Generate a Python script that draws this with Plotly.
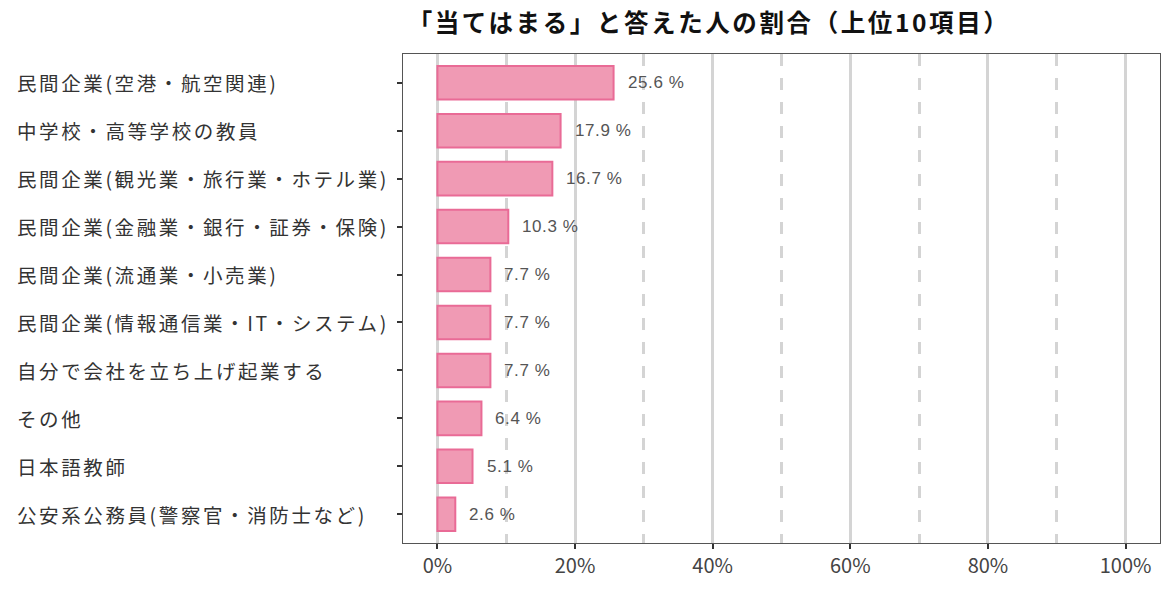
import plotly.graph_objects as go

# Data (top to bottom)
categories = [
    "民間企業(空港・航空関連)",
    "中学校・高等学校の教員",
    "民間企業(観光業・旅行業・ホテル業)",
    "民間企業(金融業・銀行・証券・保険)",
    "民間企業(流通業・小売業)",
    "民間企業(情報通信業・IT・システム)",
    "自分で会社を立ち上げ起業する",
    "その他",
    "日本語教師",
    "公安系公務員(警察官・消防士など)",
]
shares = [25.6, 17.9, 16.7, 10.3, 7.7, 7.7, 7.7, 6.4, 5.1, 2.6]
x_ticks = [0, 20, 40, 60, 80, 100]
x_tick_labels = ["0%", "20%", "40%", "60%", "80%", "100%"]

TITLE = "「当てはまる」と答えた人の割合（上位10項目）"
JP_FONT = "Noto Sans CJK JP"

W, H = 1176, 594
M_L, M_R, M_T, M_B = 403, 16, 54, 51
GRID = "#d4d4d4"

fig = go.Figure()

fig.add_trace(go.Bar(
    x=shares,
    y=categories,
    orientation="h",
    width=0.7,
    marker=dict(color="#f09ab4", line=dict(color="#e96b96", width=2)),
    hoverinfo="x+y",
))

# value labels to the right of each bar
annotations = []
for cat, val in zip(categories, shares):
    annotations.append(dict(
        x=val, y=cat, xref="x", yref="y",
        text=f'<span style="letter-spacing:0.6px">{val:.1f} %</span>',
        showarrow=False,
        xanchor="left", yanchor="middle", xshift=12,
        font=dict(family="Liberation Sans, Arial", size=17, color="#555555"),
    ))

# left-aligned category labels (ggplot style)
plot_w = W - M_L - M_R
for cat in categories:
    annotations.append(dict(
        x=(15 - M_L) / plot_w, y=cat, xref="paper", yref="y",
        text=f'<span style="letter-spacing:2.6px">{cat}</span>',
        showarrow=False,
        xanchor="left", yanchor="middle",
        font=dict(family=JP_FONT, size=19.5, color="#333333"),
    ))

fig.update_layout(
    width=W,
    height=H,
    margin=dict(l=M_L, r=M_R, t=M_T, b=M_B),
    paper_bgcolor="white",
    plot_bgcolor="white",
    showlegend=False,
    title=dict(
        text=f'<b><span style="letter-spacing:2.6px">{TITLE}</span></b>',
        x=709 / W, xanchor="center",
        y=1 - 23 / H, yanchor="middle",
        font=dict(family=JP_FONT, size=24.5, color="#111111"),
    ),
    annotations=annotations,
    xaxis=dict(
        range=[-5, 105],
        tickvals=x_ticks,
        ticktext=x_tick_labels,
        tickfont=dict(family=JP_FONT, size=20, color="#444444"),
        ticks="outside", ticklen=5, tickwidth=2, tickcolor="#333333",
        showgrid=True, gridcolor=GRID, gridwidth=2.5,
        minor=dict(dtick=10, tick0=10, showgrid=True, griddash="12px,12px",
                   gridcolor=GRID, gridwidth=2.5, ticks=""),
        showline=True, linecolor="#555555", linewidth=1.3, mirror=True,
        zeroline=False,
        fixedrange=True,
    ),
    yaxis=dict(
        range=[len(categories) - 1 + 0.6, -0.6],
        showticklabels=False,
        ticks="outside", ticklen=5, tickwidth=2, tickcolor="#333333",
        showgrid=False,
        showline=True, linecolor="#555555", linewidth=1.3, mirror=True,
        zeroline=False,
        fixedrange=True,
    ),
)

# drop the default 8px body margin so the figure fills the window
fig.write_html(
    "out.html",
    config={"displayModeBar": False},
    post_script="document.body.style.margin='0';",
)
